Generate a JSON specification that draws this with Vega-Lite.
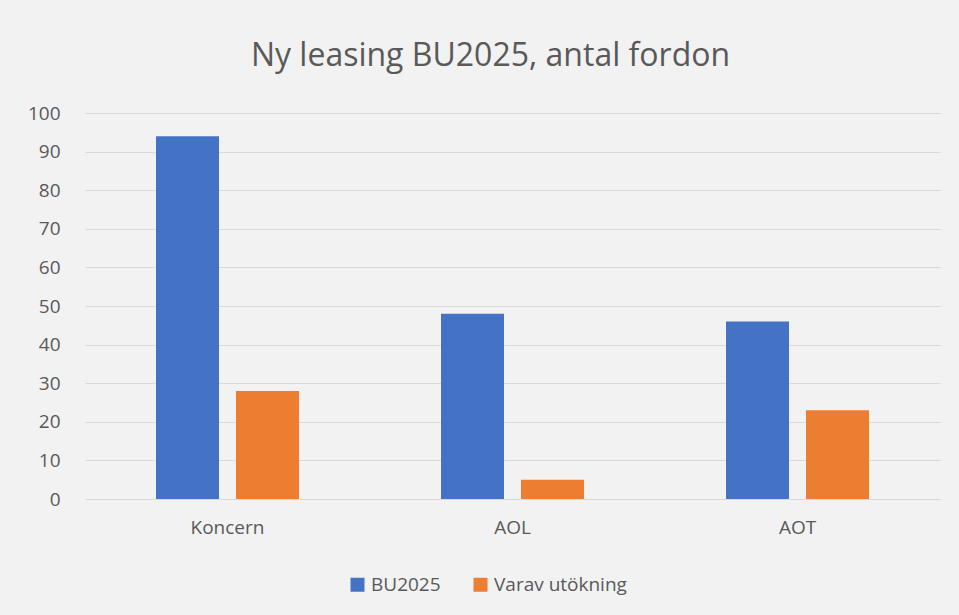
{
  "$schema": "https://vega.github.io/schema/vega-lite/v6.json",
  "autosize": {"type": "none"},
  "width": 855,
  "height": 386,
  "padding": {"left": 85, "top": 113, "right": 19, "bottom": 116},
  "background": "#f2f2f2",
  "title": {
    "text": "Ny leasing BU2025, antal fordon",
    "fontSize": 32,
    "font": "Open Sans",
    "fontWeight": "normal",
    "color": "#595959",
    "anchor": "middle",
    "offset": 31,
    "dx": -22
  },
  "data": {
    "values": [
      {"kategori": "Koncern", "serie": "BU2025", "antal": 94},
      {"kategori": "Koncern", "serie": "Varav utökning", "antal": 28},
      {"kategori": "AOL", "serie": "BU2025", "antal": 48},
      {"kategori": "AOL", "serie": "Varav utökning", "antal": 5},
      {"kategori": "AOT", "serie": "BU2025", "antal": 46},
      {"kategori": "AOT", "serie": "Varav utökning", "antal": 23}
    ]
  },
  "mark": {"type": "bar"},
  "encoding": {
    "x": {
      "field": "kategori",
      "type": "nominal",
      "sort": ["Koncern", "AOL", "AOT"],
      "scale": {"paddingInner": 0, "paddingOuter": 0},
      "axis": {
        "title": null,
        "labelAngle": 0,
        "domain": false,
        "ticks": false,
        "labelPadding": 19,
        "labelFontSize": 19,
        "labelFont": "Open Sans",
        "labelColor": "#595959"
      }
    },
    "xOffset": {
      "field": "serie",
      "type": "nominal",
      "scale": {"paddingInner": 0.2125, "paddingOuter": 0.8875}
    },
    "y": {
      "field": "antal",
      "type": "quantitative",
      "scale": {"domain": [0, 100], "nice": false},
      "axis": {
        "title": null,
        "values": [0, 10, 20, 30, 40, 50, 60, 70, 80, 90, 100],
        "domain": false,
        "ticks": false,
        "labelPadding": 25,
        "labelFontSize": 19,
        "labelFont": "Open Sans",
        "labelColor": "#595959",
        "gridColor": "#d9d9d9",
        "gridWidth": 1
      }
    },
    "color": {
      "field": "serie",
      "type": "nominal",
      "scale": {"domain": ["BU2025", "Varav utökning"], "range": ["#4472C4", "#ED7D31"]},
      "legend": {
        "title": null,
        "orient": "none",
        "direction": "horizontal",
        "legendX": 263,
        "legendY": 462,
        "symbolType": "square",
        "symbolSize": 196,
        "symbolStrokeWidth": 0,
        "labelFontSize": 19,
        "labelFont": "Open Sans",
        "labelColor": "#595959",
        "columnPadding": 30,
        "labelOffset": 4
      }
    }
  },
  "config": {
    "view": {"stroke": null}
  }
}
